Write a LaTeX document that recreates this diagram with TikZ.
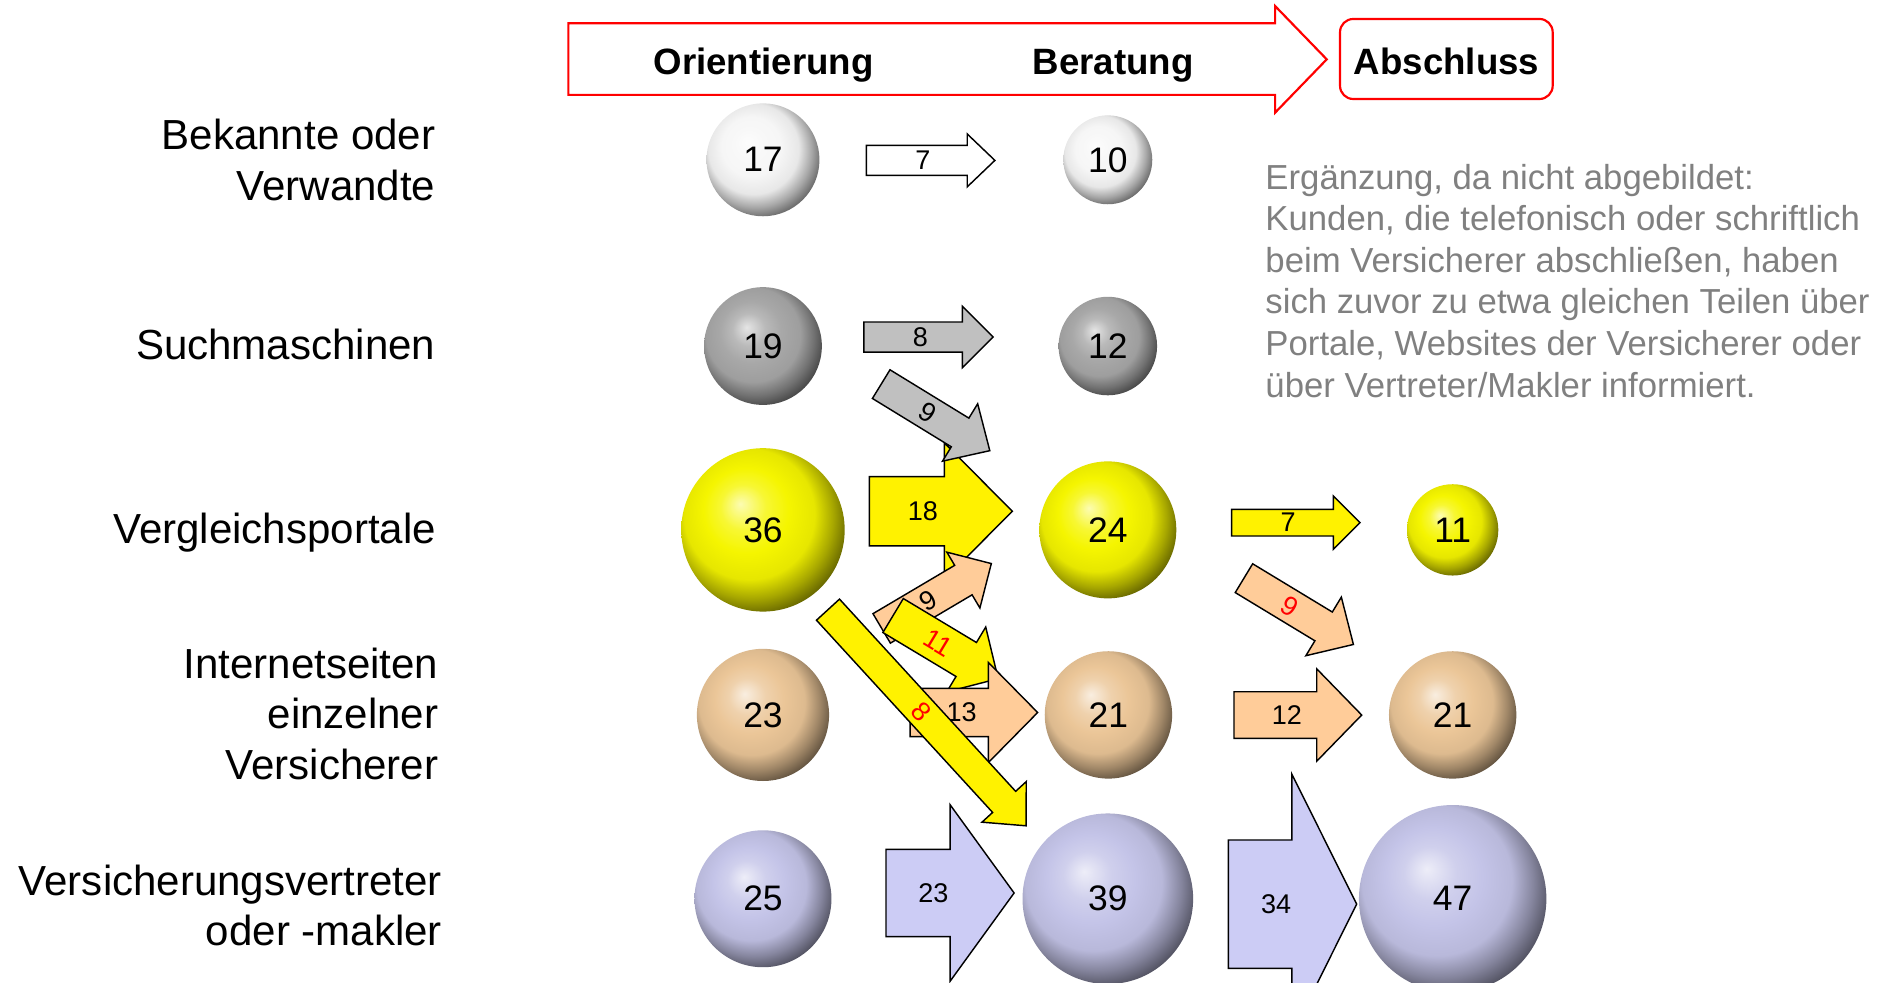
\documentclass[tikz,border=0pt]{standalone}
\usepackage{fontspec}
\setmainfont{Liberation Sans}
\definecolor{peachA}{RGB}{255,204,153}
\definecolor{peachB}{RGB}{235,198,152}
\definecolor{lavA}{RGB}{204,204,245}
\definecolor{lavB}{RGB}{196,196,232}
\definecolor{grayA}{RGB}{192,192,192}
\definecolor{grayB}{RGB}{168,168,168}
\definecolor{whiteB}{RGB}{246,246,246}
\definecolor{yelB}{RGB}{245,245,0}
\definecolor{txtgray}{RGB}{128,128,128}
\colorlet{sphc}{white}
\pgfdeclareradialshading[sphc]{sphere}{\pgfpoint{-7bp}{8bp}}{%
  color(0bp)=(sphc!30!white); color(7bp)=(sphc!80!white); color(13bp)=(sphc);
  color(20bp)=(sphc!94!black); color(25bp)=(sphc!68!black); color(30bp)=(sphc!38!black); color(36bp)=(sphc!22!black); color(50bp)=(black)}
\tikzset{
  ballnode/.style={circle, inner sep=0pt, minimum size=#1, shade, shading=sphere, font=\fontsize{29.5}{34}\selectfont},
  sph color/.code={\colorlet{sphc}{#1}},
  arrlabel/.style={inner sep=0pt, font=\fontsize{22.5}{26}\selectfont},
  blk/.style={draw=black, line width=1.2pt, line join=miter},
  rowlabel/.style={anchor=base east, inner sep=0pt, font=\fontsize{35}{42}\selectfont},
  phase/.style={anchor=base, inner sep=0pt, font=\fontsize{30.5}{36}\selectfont\bfseries},
  redline/.style={draw=red, line width=1.8pt},
}
\newcommand\blockarr[5]{\begin{scope}[shift={#3},rotate=#4]\arrbody{#1}{#2}{#4}#5\relax\end{scope}}
\def\arrbody#1#2#3#4/#5/#6/#7/#8/#9\relax{%
  \draw[blk,#1] (0,-#5/2) -- (#4-#7,-#5/2) -- (#4-#7,-#6/2) -- (#4,0) -- (#4-#7,#6/2) -- (#4-#7,#5/2) -- (0,#5/2) -- cycle;
  \node[arrlabel,rotate=#3] (#2) at (#8,0) {#9};}
\begin{document}
\begin{tikzpicture}[x=1pt,y=-1pt]
\useasboundingbox (0,0) rectangle (1568,818.1);

% header
\draw[redline, line join=miter] (473,19.4) -- (1061.2,19.4) -- (1061.2,5) -- (1104.2,49.4) -- (1061.2,93.8) -- (1061.2,79) -- (473,79) -- cycle;
\node[redline, rounded corners=11pt, minimum width=177, minimum height=66.6, inner sep=0pt] (abox) at (1203.75,49.1) {};
\node[phase] (h1) at (635.5,61.6) {Orientierung};
\node[phase] (h2) at (926.5,61.6) {Beratung};
\node[phase] (h3) at (1204,62.4) {Abschluss};

% row labels
\node[rowlabel] (l1) at (362.5,124.8) {\begin{tabular}[t]{@{}r@{}}Bekannte oder\\Verwandte\end{tabular}};
\node[rowlabel] (l2) at (362.5,299.6) {Suchmaschinen};
\node[rowlabel] (l3) at (363,452.6) {Vergleichsportale};
\node[rowlabel] (l4) at (365,564.6) {\begin{tabular}[t]{@{}r@{}}Internetseiten\\einzelner\\Versicherer\end{tabular}};
\node[rowlabel] (l5) at (368,744.9) {\begin{tabular}[t]{@{}r@{}}Versicherungsvertreter\\oder -makler\end{tabular}};

% note
\node[anchor=base west, inner sep=0pt, font=\fontsize{28.9}{34.6}\selectfont, text=txtgray] (note) at (1053,157.5)
 {\begin{tabular}[t]{@{}l@{}}Ergänzung, da nicht abgebildet:\\Kunden, die telefonisch oder schriftlich\\beim Versicherer abschließen, haben\\sich zuvor zu etwa gleichen Teilen über\\Portale, Websites der Versicherer oder\\über Vertreter/Makler informiert.\end{tabular}};

% balls
\node[ballnode=94, sph color=whiteB] (b17) at (635,133) {17};
\node[ballnode=74, sph color=whiteB] (b10) at (922,133) {10};
\node[ballnode=98, sph color=grayB] (b19) at (635,288) {19};
\node[ballnode=82, sph color=grayB] (b12) at (922,288) {12};
\node[ballnode=136, sph color=yelB] (b36) at (635,441) {36};
\node[ballnode=114, sph color=yelB] (b24) at (922,441) {24};
\node[ballnode=76, sph color=yelB] (b11) at (1209,441) {11};
\node[ballnode=110, sph color=peachB] (b23) at (635,595) {23};
\node[ballnode=106, sph color=peachB] (b21a) at (922.5,595) {21};
\node[ballnode=106, sph color=peachB] (b21b) at (1209,595) {21};
\node[ballnode=114, sph color=lavB] (b25) at (635,748) {25};
\node[ballnode=142, sph color=lavB] (b39) at (922,748) {39};
\node[ballnode=156, sph color=lavB] (b47) at (1209,748) {47};

% block arrows
\blockarr{fill=white}{a1}{(721,133.5)}{0}{107/25/44/23/47/7}
\blockarr{fill=grayA}{a2}{(719,280.5)}{0}{107.6/25/51/25.6/47/8}
\blockarr{fill=yellow}{a3}{(723.5,425.5)}{0}{119/57.5/114/56.6/44.5/18}
\blockarr{fill=grayA}{a4}{(733.4,319.7)}{-31.5}{106/28/56/29/45/9}
\blockarr{fill=peachA}{a5}{(733.8,523)}{30.6}{106/28.5/54/27/45/9}
\blockarr{fill=yellow}{a6}{(743.3,512.3)}{-31}{102/33/63/31/44/{\color{red}11}}
\blockarr{fill=peachA}{a7}{(757.4,593)}{0}{106.2/40.2/83.3/41/43/13}
\blockarr{fill=yellow}{a8}{(689.1,507.4)}{-47.5}{244/26/50/27/115/{\color{red}8}}
\blockarr{fill=lavA}{a9}{(737.4,743.2)}{0}{106.6/72.7/147/53.3/39.4/23}
\blockarr{fill=yellow}{a10}{(1025.1,435)}{0}{106.8/22.2/44.4/22.2/47/7}
\blockarr{fill=peachA}{a11}{(1035.3,481.2)}{-31.2}{106.5/28/57/29/45/{\color{red}9}}
\blockarr{fill=peachA}{a12}{(1027,595.1)}{0}{106.3/38.8/76.8/37.4/44/12}
\blockarr{fill=lavA}{a13}{(1022.3,752.5)}{0}{106.8/106.8/216.6/54/39.7/34}
\end{tikzpicture}
\end{document}
